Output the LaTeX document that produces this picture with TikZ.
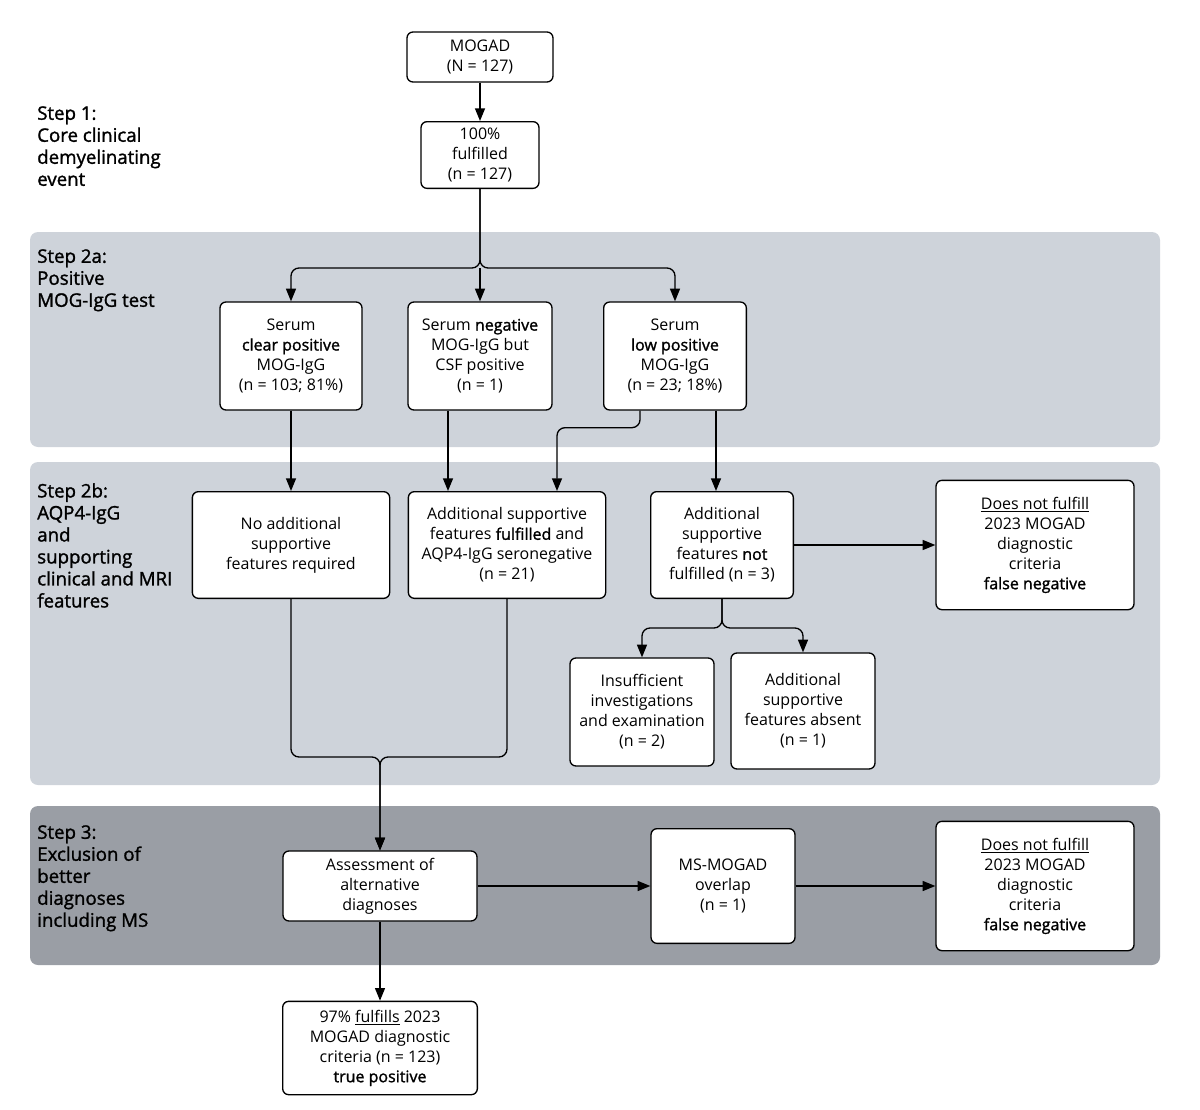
\documentclass[tikz,border=0pt]{standalone}
\usepackage{fontspec}
\setmainfont{Open Sans}
\newfontfamily\semibold{Open Sans}[FakeBold=1.4]
\usetikzlibrary{arrows.meta}
\definecolor{bandlight}{HTML}{CED3DA}
\definecolor{banddark}{HTML}{9A9EA5}
\newcommand{\sbf}[1]{{\semibold #1}}

\begin{document}
\begin{tikzpicture}[
    x=0.75pt, y=-0.75pt,
    block/.style={rectangle, draw, line width=1pt, fill=white, align=center, rounded corners=4.5pt, font=\fontsize{12}{15}\selectfont, inner sep=2pt},
    steplabel/.style={anchor=north west, align=left, inner sep=0pt, font=\semibold\fontsize{14}{16.5}\selectfont},
    band/.style={rounded corners=6pt},
    line/.style={draw, line width=1pt, -{Triangle[length=9.5pt,width=7.5pt]}},
    elbow/.style={line, rounded corners=6pt}
  ]
    \useasboundingbox (0,0) rectangle (1200,1110);

    % grey bands for the steps
    \fill[bandlight, band] (30,232) rectangle (1160,447);
    \fill[bandlight, band] (30,462) rectangle (1160,785);
    \fill[banddark, band] (30,806) rectangle (1160,965);

    \node[steplabel] (step1) at (37,106) {Step 1:\\Core clinical\\demyelinating\\event};
    \node[steplabel] (step2a) at (37,249) {Step 2a:\\Positive\\MOG-IgG test};
    \node[steplabel] (step2b) at (37,483) {Step 2b:\\AQP4-IgG\\and\\supporting\\clinical and MRI\\features};
    \node[steplabel] (step3) at (37,825) {Step 3:\\Exclusion of\\better\\diagnoses\\including MS};

    \node[block, minimum width=109.5pt, minimum height=37.5pt] (mogad) at (480,57) {MOGAD\\(N = 127)};
    \node[block, minimum width=88.5pt, minimum height=50pt] (ful) at (480,155) {100\%\\fulfilled\\(n = 127)};

    \node[block, minimum width=106.5pt, minimum height=81pt] (clear) at (291,356) {Serum\\\sbf{clear positive}\\MOG-IgG\\(n = 103; 81\%)};
    \node[block, minimum width=108pt, minimum height=81pt] (neg) at (480,356) {Serum \sbf{negative}\\MOG-IgG but\\CSF positive\\(n = 1)};
    \node[block, minimum width=107pt, minimum height=81pt] (low) at (675,356) {Serum\\\sbf{low positive}\\MOG-IgG\\(n = 23; 18\%)};

    \node[block, minimum width=148pt, minimum height=80pt] (noadd) at (291,545) {No additional\\supportive\\features required};
    \node[block, minimum width=148pt, minimum height=80pt] (addful) at (507,545) {Additional supportive\\features \sbf{fulfilled} and\\AQP4-IgG seronegative\\(n = 21)};
    \node[block, minimum width=107pt, minimum height=80pt] (addnot) at (722,545) {Additional\\supportive\\features \sbf{not}\\fulfilled (n = 3)};
    \node[block, minimum width=148.5pt, minimum height=97pt] (fn1) at (1035,545) {\underline{Does not fulfill}\\2023 MOGAD\\diagnostic\\criteria\\\sbf{false negative}};

    \node[block, minimum width=108pt, minimum height=81pt] (ins) at (642,712) {Insufficient\\investigations\\and examination\\(n = 2)};
    \node[block, minimum width=108pt, minimum height=87pt] (abs) at (803,711) {Additional\\supportive\\features absent\\(n = 1)};

    \node[block, minimum width=145.5pt, minimum height=52.5pt] (assess) at (380,886) {Assessment of\\alternative\\diagnoses};
    \node[block, minimum width=108pt, minimum height=86pt] (msmog) at (723,886) {MS-MOGAD\\overlap\\(n = 1)};
    \node[block, minimum width=148.5pt, minimum height=97pt] (fn2) at (1035,886) {\underline{Does not fulfill}\\2023 MOGAD\\diagnostic\\criteria\\\sbf{false negative}};

    \node[block, minimum width=146pt, minimum height=70pt] (true) at (380,1048) {97\% \underline{fulfills} 2023\\MOGAD diagnostic\\criteria (n = 123)\\\sbf{true positive}};

    \coordinate (fork) at (480,268);
    \coordinate (split) at (722,628);
    \coordinate (merge) at (380,757);

    \path[line] (mogad) -- (ful);
    \path[elbow] (ful.south) -- (fork) -| (clear.north);
    \path[elbow] (ful.south) -- (fork) -| (low.north);
    \path[line] (fork) -- (neg.north);

    \path[line] (clear) -- (noadd);
    \path[line] ([xshift=-24pt]neg.south) -- ([xshift=-24pt]neg.south |- addful.north);
    \path[elbow] ([xshift=-26.25pt]low.south) -- ++(0,17) -| ([xshift=37.5pt]addful.north);
    \path[line] ([xshift=30.75pt]low.south) -- ([xshift=30.75pt]low.south |- addnot.north);
    \path[line] (addnot) -- (fn1);
    \path[elbow] (addnot.south) -- (split) -| (ins.north);
    \path[elbow] (addnot.south) -- (split) -| (abs.north);

    \path[elbow] (noadd.south) |- (merge) -- (assess.north);
    \path[elbow] (addful.south) |- (merge) -- (assess.north);
    \path[line] (assess) -- (msmog);
    \path[line] (msmog) -- (fn2);
    \path[line] (assess) -- (true);
\end{tikzpicture}
\end{document}
